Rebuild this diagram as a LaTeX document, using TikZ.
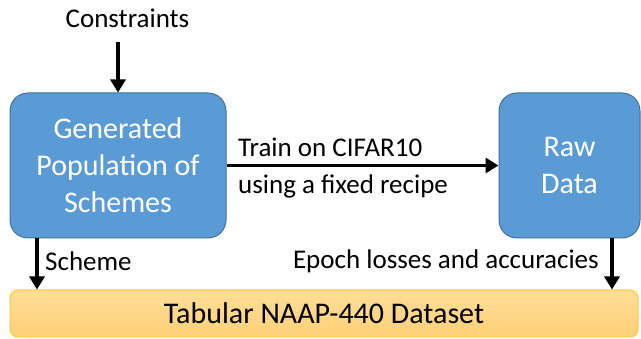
\documentclass[tikz,border=0pt]{standalone}
\usepackage{fontspec}
\setmainfont{Carlito}
\usetikzlibrary{arrows.meta}
\definecolor{boxblue}{HTML}{5B9BD5}
\definecolor{boxline}{HTML}{41719C}
\definecolor{bartop}{HTML}{FFDE98}
\definecolor{barbottom}{HTML}{FFD077}
\definecolor{barline}{HTML}{FFC73A}
\begin{document}
\begin{tikzpicture}[x=1pt,y=-1pt,
    blockbox/.style={draw=boxline, fill=boxblue, line width=1pt, rounded corners=18pt,
        text=white, align=center, inner sep=0pt, minimum height=145pt,
        font=\fontsize{30}{37}\selectfont},
    labeltext/.style={font=\fontsize{27}{32}\selectfont, inner sep=0pt},
    arr/.style={line width=3.6pt, -{Triangle[length=13pt,width=15pt]}}]
    \useasboundingbox (0,0) rectangle (641,339);

    \node[labeltext] (cons) at (127.5,18) {Constraints};
    \coordinate (consend) at (118,42);

    \node[blockbox, minimum width=216pt] (gen) at (118,165.5) {Generated\\Population of\\Schemes};
    \node[blockbox, minimum width=141pt] (raw) at (569.5,165.5) {Raw\\Data};

    \node[draw=barline, line width=1pt, rounded corners=8pt, top color=bartop, bottom color=barbottom,
        minimum width=628pt, minimum height=47pt, inner sep=0pt,
        font=\fontsize{30}{36}\selectfont] (data) at (324,313.5) {Tabular NAAP-440 Dataset};

    \draw[arr] (consend) -- (gen.north);
    \draw[arr] (gen.east) -- (raw.west);
    \node[labeltext, anchor=west] (train) at (238,147) {Train on CIFAR10};
    \node[labeltext, anchor=west] (recipe) at (238,186) {using a fixed recipe};

    \draw[arr] ([xshift=-81pt]gen.south) -- ([xshift=-81pt]gen.south |- data.north);
    \draw[arr] ([xshift=42.5pt]raw.south) -- ([xshift=42.5pt]raw.south |- data.north);
    \node[labeltext, anchor=west] (scheme) at (45,261) {Scheme};
    \node[labeltext, anchor=east] (epoch) at (599,261) {Epoch losses and accuracies};
\end{tikzpicture}
\end{document}
